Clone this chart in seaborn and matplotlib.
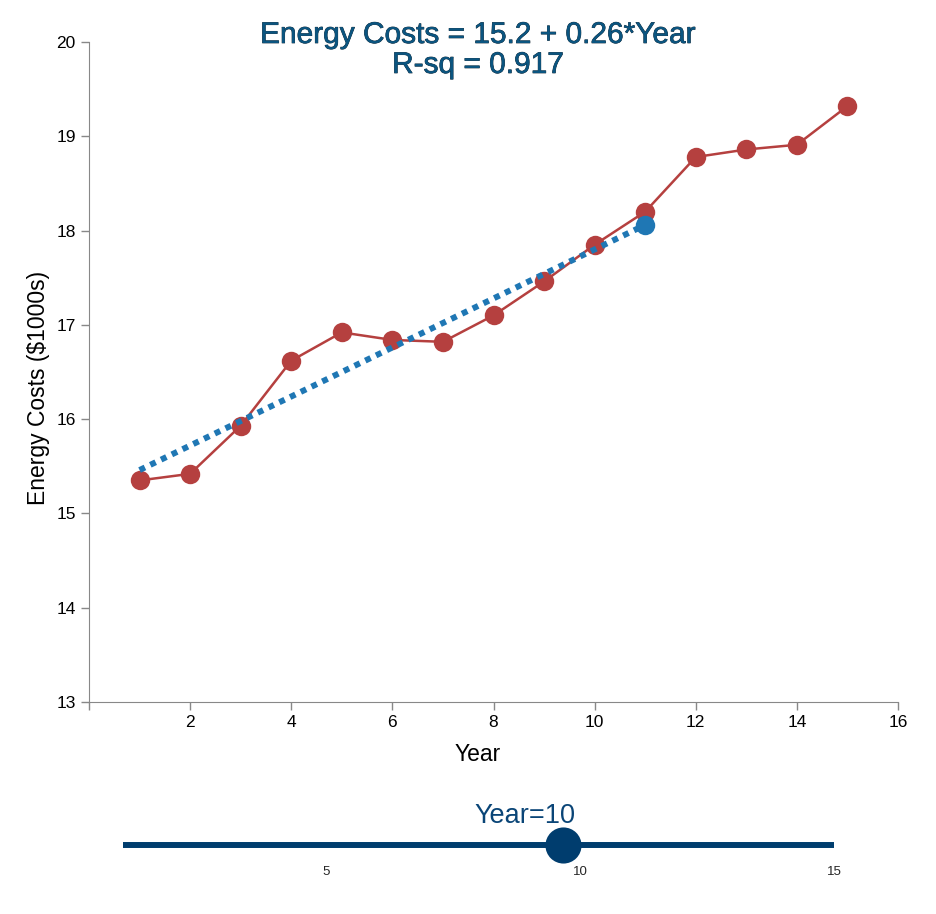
import numpy as np
import pandas as pd
import seaborn as sns
import matplotlib.pyplot as plt
import matplotlib.patheffects as pe

# Data
years = [1, 2, 3, 4, 5, 6, 7, 8, 9, 10, 11, 12, 13, 14, 15]
costs = [15.35, 15.42, 15.93, 16.62, 16.92, 16.84, 16.82, 17.10, 17.46,
         17.85, 18.20, 18.78, 18.86, 18.91, 19.32]
intercept = 15.2
slope = 0.26
fit_years = [1, 11]
pred_year = 11
slider_value = 9.66
slider_ticks = [5, 10, 15]

df = pd.DataFrame({'Year': years, 'Cost': costs})
fit = pd.DataFrame({'Year': fit_years,
                    'Cost': [intercept + slope * x for x in fit_years]})

sns.set_style('ticks')
plt.rcParams['font.family'] = ['Liberation Sans', 'DejaVu Sans']

red = '#b5403f'
blue = '#1f77b4'
navy = '#003d6e'
gray = '#888888'

fig = plt.figure(figsize=(9.36, 9.14), dpi=100)
ax = fig.add_axes([89 / 936, 1 - 702 / 914, (898 - 89) / 936, (702 - 42) / 914])

sns.lineplot(data=df, x='Year', y='Cost', ax=ax, color=red, linewidth=1.8,
             marker='o', markersize=14, markeredgewidth=0, zorder=3)
sns.lineplot(data=fit, x='Year', y='Cost', ax=ax, color=blue, linewidth=4.3,
             linestyle=(0, (1, 1)), zorder=4)
ax.plot([pred_year], [intercept + slope * pred_year], 'o', color=blue,
        markersize=14, markeredgewidth=0, zorder=5)

ax.set_xlim(0, 16)
ax.set_ylim(13, 20)
ax.set_xticks(range(0, 17, 2))
ax.set_xticklabels([''] + [str(v) for v in range(2, 17, 2)])
ax.set_yticks(range(13, 21))
ax.tick_params(colors=gray, labelcolor='black', labelsize=12.5, length=6, width=1)
for s in ['top', 'right']:
    ax.spines[s].set_visible(False)
for s in ['left', 'bottom']:
    ax.spines[s].set_color(gray)
ax.set_xlabel('Year', fontsize=16.5, color='black')
ax.set_ylabel('Energy Costs ($1000s)', fontsize=16.5, color='black')
ax.xaxis.set_label_coords((478 - 89) / 809, (702 - 743) / 660)
ax.yaxis.set_label_coords((50 - 89) / 809, (702 - 388) / 660)

title_fx = [pe.withStroke(linewidth=0.5, foreground='#0a1f2e')]
fig.text(478 / 936, 1 - 43 / 914, 'Energy Costs = 15.2 + 0.26*Year', fontsize=21.5,
         color='#0b5580', ha='center', va='baseline', path_effects=title_fx)
fig.text(478 / 936, 1 - 73 / 914, 'R-sq = 0.917', fontsize=21.5,
         color='#0b5580', ha='center', va='baseline', path_effects=title_fx)

# Slider: 1 -> x 123 px, 15 -> x 834 px
px_per = (834 - 123) / 14
sax = fig.add_axes([123 / 936, 1 - 890 / 914, (834 - 123) / 936, 100 / 914])
sax.set_xlim(1, 15)
sax.set_ylim(0, 1)
sax.axis('off')
sax.plot([1, 15], [0.45, 0.45], color=navy, linewidth=4.3, solid_capstyle='butt')
sax.plot([slider_value], [0.45], 'o', color=navy, markersize=26,
         markeredgewidth=0, clip_on=False)
for t in slider_ticks:
    sax.text(t, 0.18, str(t), fontsize=9.5, ha='center', va='center')
sax.text(1 + (525 - 123) / px_per, 0.67, 'Year=10', fontsize=19.5, color='#0a4577',
         ha='center', va='baseline')

fig.savefig('out.png', dpi=100)
